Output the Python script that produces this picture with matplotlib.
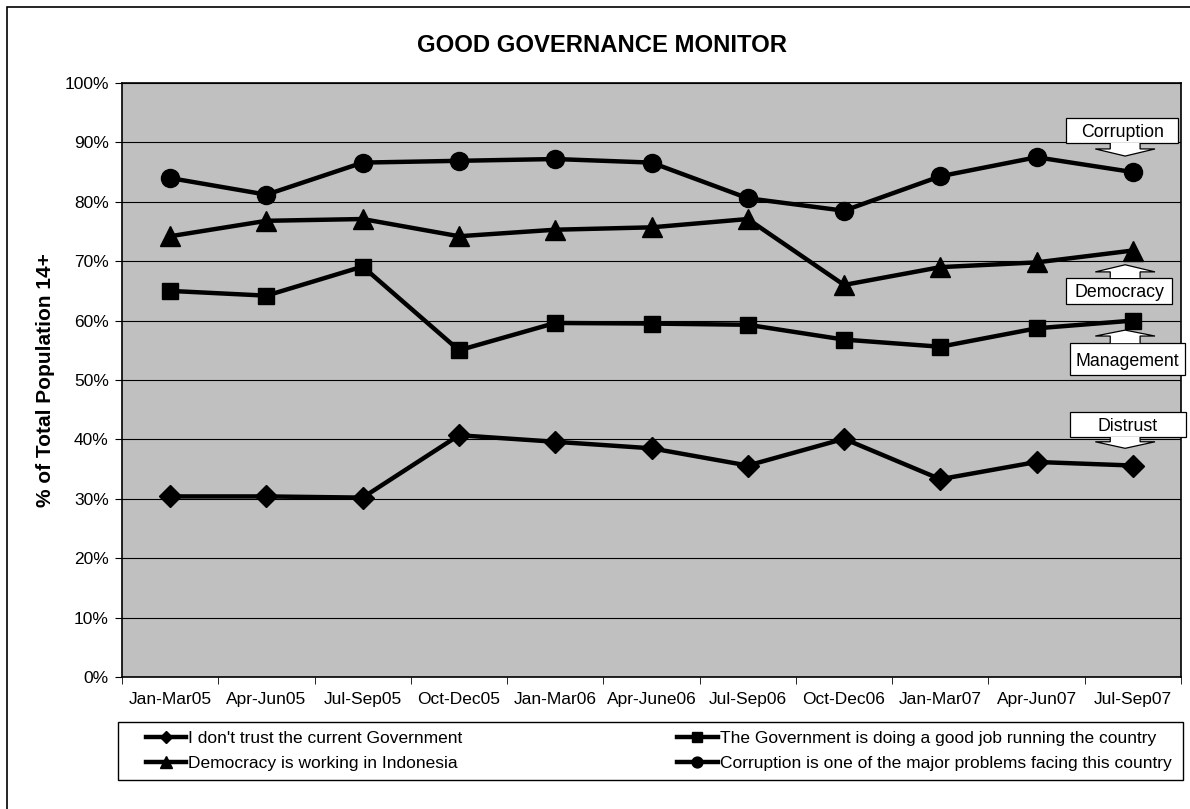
import matplotlib.pyplot as plt
from matplotlib.patches import Polygon, Rectangle
from matplotlib.ticker import FixedLocator, PercentFormatter

plt.rcParams['font.family'] = ['Liberation Sans', 'DejaVu Sans']

periods = ['Jan-Mar05', 'Apr-Jun05', 'Jul-Sep05', 'Oct-Dec05', 'Jan-Mar06', 'Apr-June06',
           'Jul-Sep06', 'Oct-Dec06', 'Jan-Mar07', 'Apr-Jun07', 'Jul-Sep07']
distrust = [30.4, 30.4, 30.2, 40.7, 39.6, 38.5, 35.6, 40.1, 33.3, 36.2, 35.6]
management = [65.0, 64.2, 69.1, 55.0, 59.6, 59.5, 59.3, 56.8, 55.6, 58.7, 60.0]
democracy = [74.2, 76.8, 77.1, 74.2, 75.3, 75.7, 77.1, 66.0, 69.0, 69.8, 71.8]
corruption = [84.0, 81.2, 86.6, 86.9, 87.2, 86.6, 80.6, 78.5, 84.3, 87.5, 85.0]

series_labels = ["I don't trust the current Government",
                 "Democracy is working in Indonesia",
                 "The Government is doing a good job running the country",
                 "Corruption is one of the major problems facing this country"]

W, H = 1190, 809
fig = plt.figure(figsize=(W / 100, H / 100), dpi=100)
ax = fig.add_axes([122 / W, 1 - 677 / H, 1059 / W, 594 / H])
ax.set_facecolor('#c0c0c0')

x = list(range(len(periods)))
lw = 3.2
l1, = ax.plot(x, distrust, color='black', lw=lw, marker='D', ms=11, label=series_labels[0])
l2, = ax.plot(x, democracy, color='black', lw=lw, marker='^', ms=14, label=series_labels[1])
l3, = ax.plot(x, management, color='black', lw=lw, marker='s', ms=11.5, label=series_labels[2])
l4, = ax.plot(x, corruption, color='black', lw=lw, marker='o', ms=13, label=series_labels[3])

ax.set_xlim(-0.5, len(periods) - 0.5)
ax.set_ylim(0, 100)
ax.set_yticks(range(0, 101, 10))
ax.yaxis.set_major_formatter(PercentFormatter(decimals=0))
ax.yaxis.grid(True, color='black', lw=0.8)
ax.set_axisbelow(True)
ax.set_xticks(x)
ax.set_xticklabels(periods, fontsize=12.5)
ax.xaxis.set_minor_locator(FixedLocator([i - 0.5 for i in range(len(periods) + 1)]))
ax.tick_params(axis='x', which='major', length=0, pad=11)
ax.tick_params(axis='x', which='minor', length=5, direction='out')
ax.tick_params(axis='y', labelsize=12.5, length=5, direction='out', pad=4.5)
for s in ax.spines.values():
    s.set_linewidth(1.2)
ax.set_ylabel('% of Total Population 14+', fontsize=15, fontweight='bold', labelpad=7)

fig.text(0.5055, 1 - 45 / H, 'GOOD GOVERNANCE MONITOR', ha='center', va='center',
         fontsize=17.2, fontweight='bold')

# legend frame drawn by hand so the entries can sit inset like the original
fig.add_artist(Rectangle((118 / W, 1 - 780 / H), 1065 / W, 58 / H, transform=fig.transFigure,
                         fill=False, edgecolor='black', lw=1.0))
leg = fig.legend(handles=[l1, l2, l3, l4], ncol=2, mode='expand',
                 bbox_to_anchor=(137 / W, 1 - 780 / H, 1043 / W, 58 / H),
                 loc='center', fontsize=12.5, frameon=False,
                 handlelength=2.35, handletextpad=0.1, borderpad=0.0,
                 labelspacing=0.55, markerscale=0.6)


def callout(text, x0, x1, yb0, yb1, head_base, tip, xc):
    # box with a block arrow pointing to the line end
    ax.add_patch(Rectangle((x0, yb0), x1 - x0, yb1 - yb0, facecolor='white',
                           edgecolor='black', lw=0.9, clip_on=False, zorder=5))
    edge = yb0 if tip < yb0 else yb1
    sw, hw = 0.155, 0.31
    pts = [(xc - sw, edge), (xc - sw, head_base), (xc - hw, head_base), (xc, tip),
           (xc + hw, head_base), (xc + sw, head_base), (xc + sw, edge)]
    ax.add_patch(Polygon(pts, closed=False, facecolor='white', edgecolor='black',
                         lw=0.9, clip_on=False, zorder=5))
    ax.add_patch(Polygon([(xc - sw + 0.01, edge), (xc + sw - 0.01, edge),
                          (xc + sw - 0.01, head_base), (xc - sw + 0.01, head_base)],
                         facecolor='white', edgecolor='none', clip_on=False, zorder=6))
    ax.text((x0 + x1) / 2, (yb0 + yb1) / 2, text, ha='center', va='center_baseline',
            fontsize=12.8, zorder=7, clip_on=False)


callout('Corruption', 9.31, 10.47, 89.9, 94.1, 88.9, 87.7, 9.92)
callout('Democracy', 9.31, 10.41, 62.8, 67.2, 68.2, 69.4, 9.92)
callout('Management', 9.35, 10.54, 50.8, 56.2, 57.4, 58.4, 9.92)
callout('Distrust', 9.35, 10.55, 40.4, 44.6, 39.6, 38.5, 9.92)

fig.add_artist(Rectangle((7 / W, -0.05), 1.2, 1 - 7 / H + 0.05, transform=fig.transFigure,
                         fill=False, edgecolor='black', lw=1.2))

fig.savefig('out.png', dpi=100)
